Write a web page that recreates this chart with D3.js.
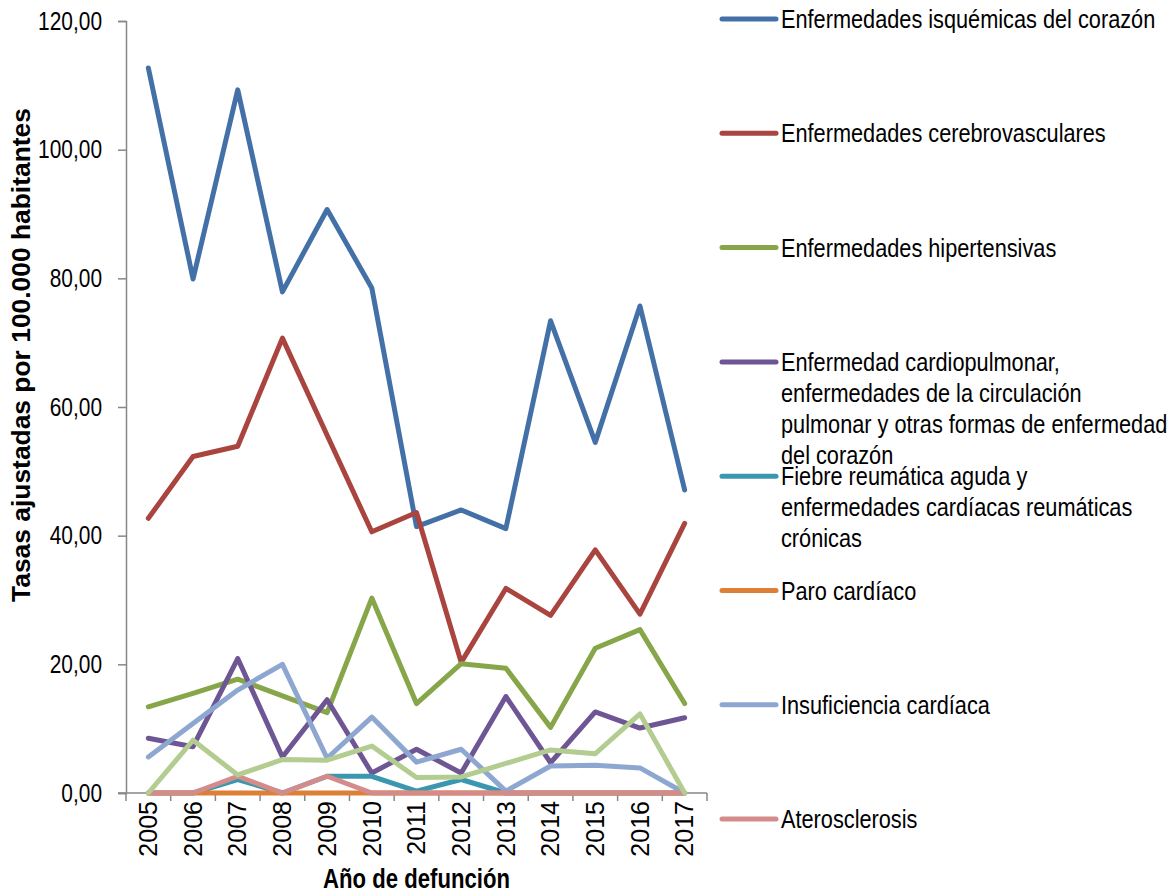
<!DOCTYPE html>
<html>
<head>
<meta charset="utf-8">
<script src="https://cdn.jsdelivr.net/npm/d3@7"></script>
<style>
    body { margin: 0; background: #fff; }
    #chart { width: 1175px; height: 894px; }
    text { font-family: "Liberation Sans", Arial, sans-serif; fill: #000; }
</style>
</head>
<body>
<div id="chart"></div>
<script>
// Datos
const years = [2005, 2006, 2007, 2008, 2009, 2010, 2011, 2012, 2013, 2014, 2015, 2016, 2017];

const isquemicas      = [112.7, 79.9, 109.3, 77.9, 90.7, 78.5, 41.4, 44.0, 41.1, 73.4, 54.5, 75.7, 47.1];
const cerebro         = [42.7, 52.3, 53.9, 70.7, 55.6, 40.6, 43.6, 20.3, 31.8, 27.6, 37.8, 27.8, 41.9];
const hipertensivas   = [13.4, 15.5, 17.7, 15.1, 12.5, 30.3, 13.9, 20.1, 19.4, 10.2, 22.5, 25.4, 13.9];
const cardiopulmonar  = [8.5, 7.2, 20.9, 5.6, 14.5, 3.1, 6.8, 3.1, 15.0, 4.7, 12.6, 10.1, 11.7];
const fiebreReumatica = [0, 0, 2.1, 0, 2.6, 2.6, 0.3, 2.1, 0, 0, 0, 0, 0];
const paroCardiaco    = [0, 0, 0, 0, 0, 0, 0, 0, 0, 0, 0, 0, 0];
const insuficiencia   = [5.6, 10.8, 16.0, 20.0, 5.4, 11.8, 4.8, 6.8, 0.3, 4.2, 4.3, 3.9, 0];
const aterosclerosis  = [0, 0, 2.6, 0, 2.6, 0, 0, 0, 0, 0, 0, 0, 0];
const otras           = [0, 8.2, 2.8, 5.2, 5.1, 7.3, 2.4, 2.5, 4.6, 6.7, 6.1, 12.3, 0];

const yTicks = [0, 20, 40, 60, 80, 100, 120];

const seriesNames = [
    ["Enfermedades isquémicas del corazón"],
    ["Enfermedades cerebrovasculares"],
    ["Enfermedades hipertensivas"],
    ["Enfermedad cardiopulmonar,", "enfermedades de la circulación", "pulmonar y otras formas de enfermedad", "del corazón"],
    ["Fiebre reumática aguda y", "enfermedades cardíacas reumáticas", "crónicas"],
    ["Paro cardíaco"],
    ["Insuficiencia cardíaca"],
    ["Aterosclerosis"],
    null // serie sin entrada en la leyenda
];
const seriesValues = [isquemicas, cerebro, hipertensivas, cardiopulmonar, fiebreReumatica,
                      paroCardiaco, insuficiencia, aterosclerosis, otras];
const seriesColors = ["#4470a8", "#a9443f", "#87a64a", "#6e5593", "#3b97b0",
                      "#dd8035", "#8ea7d0", "#d48c8b", "#b3cc8f"];

// el texto horizontal del original es estrecho (tipo Arial Narrow)
const NARROW = 0.82;

class LineChart {
    constructor(containerId) {
        this.container = document.getElementById(containerId);
        this.width = 1175;
        this.height = 894;
        this.plot = { left: 126, right: 707, top: 21, bottom: 793 };
        this.axisColor = "#878787";
    }

    initialize() {
        this.createSvg();
        this.createScales();
        this.drawYAxis();
        this.drawXAxis();
        this.drawLines();
        this.drawLegend();
        this.drawTitles();
    }

    createSvg() {
        this.svg = d3.select(this.container).append("svg")
            .attr("width", this.width)
            .attr("height", this.height);
    }

    createScales() {
        this.x = d3.scaleBand()
            .domain(years)
            .range([this.plot.left, this.plot.right])
            .padding(0);
        this.y = d3.scaleLinear()
            .domain([0, 120])
            .range([this.plot.bottom, this.plot.top]);
    }

    drawYAxis() {
        const locale = d3.formatLocale({ decimal: ",", thousands: ".", grouping: [3], currency: ["", ""] });
        const axis = d3.axisLeft(this.y)
            .tickValues(yTicks)
            .tickSize(8)
            .tickPadding(16)
            .tickFormat(locale.format(".2f"));

        const g = this.svg.append("g")
            .attr("transform", `translate(${this.plot.left},0)`)
            .call(axis);
        g.select(".domain").attr("stroke", this.axisColor).attr("stroke-width", 1.5);
        g.selectAll(".tick line").attr("stroke", this.axisColor).attr("stroke-width", 1.5);
        g.selectAll(".tick text")
            .attr("x", -24 / NARROW)
            .attr("transform", `scale(${NARROW},1)`)
            .style("font-size", "25.5px")
            .attr("fill", "#000");
    }

    drawXAxis() {
        const g = this.svg.append("g");
        g.append("line")
            .attr("x1", this.plot.left - 8)
            .attr("x2", this.plot.right)
            .attr("y1", this.plot.bottom)
            .attr("y2", this.plot.bottom)
            .attr("stroke", this.axisColor)
            .attr("stroke-width", 1.5);

        // Marcas entre categorías
        const bounds = years.map(d => this.x(d)).concat([this.plot.right]);
        g.selectAll("line.tick")
            .data(bounds)
            .enter().append("line")
            .attr("class", "tick")
            .attr("x1", d => d)
            .attr("x2", d => d)
            .attr("y1", this.plot.bottom)
            .attr("y2", this.plot.bottom + 8)
            .attr("stroke", this.axisColor)
            .attr("stroke-width", 1.5);

        g.selectAll("text.year")
            .data(years)
            .enter().append("text")
            .attr("class", "year")
            .attr("transform", d => `translate(${this.x(d) + this.x.bandwidth() / 2},${this.plot.bottom + 8}) rotate(-90)`)
            .attr("text-anchor", "end")
            .attr("dy", "0.35em")
            .style("font-size", "25px")
            .text(d => d);
    }

    drawLines() {
        const line = d3.line()
            .x((d, i) => this.x(years[i]) + this.x.bandwidth() / 2)
            .y(d => this.y(d));

        this.svg.append("g")
            .selectAll("path")
            .data(seriesValues)
            .enter().append("path")
            .attr("d", d => line(d))
            .attr("fill", "none")
            .attr("stroke", (d, i) => seriesColors[i])
            .attr("stroke-width", 5)
            .attr("stroke-linecap", "round")
            .attr("stroke-linejoin", "round");
    }

    drawLegend() {
        const items = seriesNames
            .map((name, i) => ({ name: name, color: seriesColors[i] }))
            .filter(d => d.name);

        const item = this.svg.append("g")
            .selectAll("g")
            .data(items)
            .enter().append("g")
            .attr("transform", (d, i) => `translate(722,${19 + i * 114.3})`);

        item.append("line")
            .attr("x1", 0)
            .attr("x2", 54)
            .attr("stroke", d => d.color)
            .attr("stroke-width", 5)
            .attr("stroke-linecap", "round");

        const text = item.append("text")
            .attr("transform", `translate(59,9) scale(${NARROW},1)`)
            .style("font-size", "26.5px");
        text.selectAll("tspan")
            .data(d => d.name)
            .enter().append("tspan")
            .attr("x", 0)
            .attr("dy", (d, i) => i === 0 ? 0 : 31)
            .text(d => d);
    }

    drawTitles() {
        this.svg.append("text")
            .attr("transform", `translate(30,355) rotate(-90)`)
            .attr("text-anchor", "middle")
            .style("font-size", "26.4px")
            .style("font-weight", "bold")
            .text("Tasas ajustadas por 100.000 habitantes");

        this.svg.append("text")
            .attr("transform", `translate(${(this.plot.left + this.plot.right) / 2},888) scale(${NARROW},1)`)
            .attr("text-anchor", "middle")
            .style("font-size", "27px")
            .style("font-weight", "bold")
            .text("Año de defunción");
    }
}

document.addEventListener('DOMContentLoaded', function() {
    const chart = new LineChart('chart');
    chart.initialize();
});
</script>
</body>
</html>
